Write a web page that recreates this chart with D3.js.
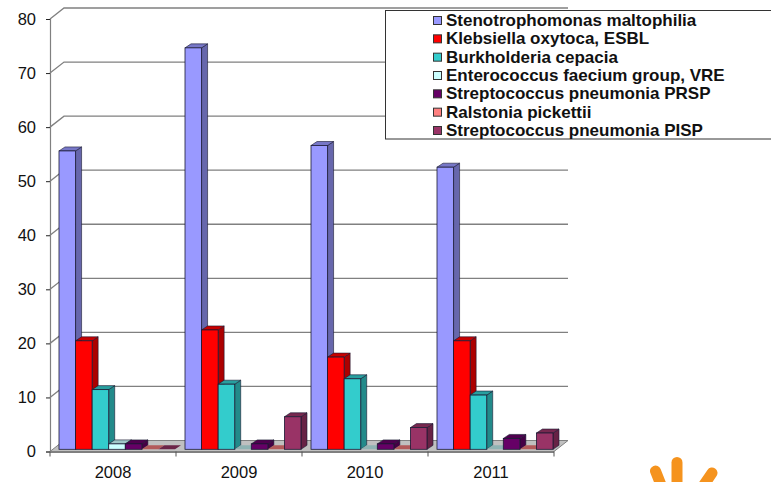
<!DOCTYPE html>
<html>
<head>
<meta charset="utf-8">
<script src="https://cdn.jsdelivr.net/npm/d3@7"></script>
<style>
  html, body { margin: 0; padding: 0; background: #fff; }
  svg { display: block; }
  text { font-family: "Liberation Sans", Arial, sans-serif; fill: #111; }
</style>
</head>
<body>
<svg id="chart" width="771" height="482"></svg>
<script>
const years = ['2008', '2009', '2010', '2011']
const seriesNames = [
  'Stenotrophomonas maltophilia',
  'Klebsiella oxytoca, ESBL',
  'Burkholderia cepacia',
  'Enterococcus faecium group, VRE',
  'Streptococcus pneumonia PRSP',
  'Ralstonia pickettii',
  'Streptococcus pneumonia PISP',
]
const stenotrophomonas = [55, 74, 56, 52]
const klebsiella = [20, 22, 17, 20]
const burkholderia = [11, 12, 13, 10]
const enterococcus = [1, 0, 0, 0]
const prsp = [1, 1, 1, 2]
const ralstonia = [0, 0, 0, 0]
const pisp = [0, 6, 4, 3]
const seriesValues = [stenotrophomonas, klebsiella, burkholderia, enterococcus, prsp, ralstonia, pisp]
const seriesColors = ['#9999ff', '#ff0000', '#33cccc', '#ccffff', '#660066', '#ff8080', '#993366']
const yTicks = [0, 10, 20, 30, 40, 50, 60, 70, 80]

const svg = d3.select('#chart')

// 3d look: back wall is shifted from the front axis by this much
const depthX = 14
const depthY = 11
const barDepthX = 6
const barDepthY = 4

const x0 = d3.scaleBand().domain(years).range([50, 554])
const x1 = d3.scaleBand().domain(d3.range(seriesNames.length)).range([9, 125]).paddingInner(0)
const y = d3.scaleLinear().domain([0, 80]).range([451.5, 19])
const barBase = 449.3
const barH = d3.scaleLinear().domain([0, 80]).range([0, 434])

// gridlines on the wall, with the little step down the side wall
const grid = svg.append('g')
grid.selectAll('path.grid')
  .data(yTicks.slice(1))
  .join('path')
  .attr('class', 'grid')
  .attr('fill', 'none')
  .attr('stroke', '#808080')
  .attr('stroke-width', 1.3)
  .attr('d', d => `M50,${y(d)}L${50 + depthX},${y(d) - depthY}H${554 + depthX}`)

// floor
svg.append('path')
  .attr('d', `M50,${y(0)}L${50 + depthX},${y(0) - depthY}H${554 + depthX}L554,${y(0)}Z`)
  .attr('fill', '#c0c0c0')
  .attr('stroke', '#808080')
svg.append('rect')
  .attr('x', 50).attr('y', y(0)).attr('width', 504).attr('height', 1.5)
  .attr('fill', '#808080')

// y axis
const yAxis = d3.axisLeft(y).tickValues(yTicks).tickSize(4).tickPadding(10)
const yG = svg.append('g').attr('transform', 'translate(50,0)').call(yAxis)
yG.selectAll('text').style('font-size', '16.5px')
yG.select('.domain').attr('stroke', '#808080').attr('stroke-width', 1.2)
yG.selectAll('.tick line').attr('stroke', '#222')

// x axis
const xAxis = d3.axisBottom(x0).tickSize(0).tickPadding(15)
const xG = svg.append('g').attr('transform', `translate(0,${y(0)})`).call(xAxis)
xG.select('.domain').remove()
xG.selectAll('text').style('font-size', '16.5px')
svg.append('g').selectAll('line')
  .data(d3.range(years.length + 1))
  .join('line')
  .attr('x1', d => 50 + d * x0.bandwidth())
  .attr('x2', d => 50 + d * x0.bandwidth())
  .attr('y1', y(0))
  .attr('y2', y(0) + 5)
  .attr('stroke', '#555')

// bars, drawn series by series per year so the side faces overlap properly
const bars = svg.append('g')
years.forEach((yr, yi) => {
  seriesValues.forEach((vals, si) => {
    const v = vals[yi]
    const col = d3.color(seriesColors[si])
    const bx = x0(yr) + x1(si)
    const w = x1.bandwidth()
    const top = barBase - barH(v)
    const g = bars.append('g')
    if (v === 0) {
      // zero values still leave a flat plate on the floor
      g.append('path')
        .attr('d', `M${bx},${barBase}L${bx + barDepthX},${barBase - barDepthY}h${w}L${bx + w},${barBase}Z`)
        .attr('fill', col.darker(1))
      return
    }
    g.append('path')
      .attr('d', `M${bx + w},${top}l${barDepthX},${-barDepthY}V${barBase - barDepthY}L${bx + w},${barBase}Z`)
      .attr('fill', col.darker(1.1))
      .attr('stroke', '#1a1a33').attr('stroke-width', 0.6)
    g.append('path')
      .attr('d', `M${bx},${top}l${barDepthX},${-barDepthY}h${w}L${bx + w},${top}Z`)
      .attr('fill', col.darker(0.7))
      .attr('stroke', '#1a1a33').attr('stroke-width', 0.6)
    g.append('rect')
      .attr('x', bx).attr('y', top).attr('width', w).attr('height', barH(v))
      .attr('fill', col)
      .attr('stroke', '#1a1a33').attr('stroke-width', 0.8)
  })
})

// legend box
const legend = svg.append('g')
legend.append('rect')
  .attr('x', 385.5).attr('y', 10.5).attr('width', 390).attr('height', 128.5)
  .attr('fill', '#fff').attr('stroke', '#333').attr('stroke-width', 1)
const legendY = d3.scalePoint().domain(seriesNames).range([20.5, 130.5])
seriesNames.forEach((name, i) => {
  legend.append('rect')
    .attr('x', 433.5).attr('y', legendY(name) - 4).attr('width', 8).attr('height', 8)
    .attr('fill', seriesColors[i]).attr('stroke', '#333').attr('stroke-width', 1)
  legend.append('text')
    .attr('x', 446).attr('y', legendY(name) + 5.5)
    .style('font-size', '17px').style('font-weight', 'bold')
    .text(name)
})

// orange hand from the slide peeking in at the bottom edge
svg.append('g')
  .attr('fill', 'none')
  .attr('stroke', '#f5931e')
  .attr('stroke-linecap', 'round')
  .selectAll('path')
  .data([
    { d: 'M655.5,471L665,495', w: 11 },
    { d: 'M677,462.5L677,495', w: 11 },
    { d: 'M712,473L697,495', w: 11 },
  ])
  .join('path')
  .attr('d', d => d.d)
  .attr('stroke-width', d => d.w)
</script>
</body>
</html>
